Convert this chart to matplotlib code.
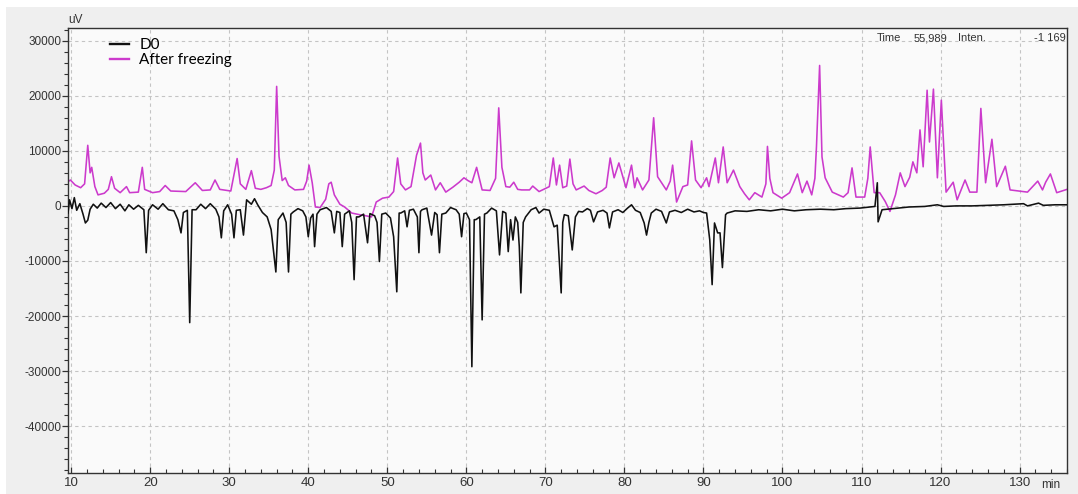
import matplotlib
matplotlib.use('Agg')
import matplotlib.pyplot as plt
from matplotlib.ticker import MultipleLocator, FormatStrFormatter
from matplotlib.patches import Rectangle

# chromatogram traces: (time in min, intensity in uV)
d0_time = [9.6, 9.8, 10.1, 10.4, 10.7, 11.1, 11.5, 11.8, 12.1, 12.4, 12.8, 13.3, 13.8, 14.4, 15.0,
           15.6, 16.2, 16.8, 17.3, 17.9, 18.5, 19.2, 19.5, 19.8, 20.3, 21.0, 21.6, 22.3, 23.0, 23.5,
           23.9, 24.2, 24.7, 25.0, 25.3, 25.8, 26.4, 27.0, 27.6, 28.3, 28.7, 29.0, 29.3, 29.8, 30.3,
           30.6, 30.9, 31.4, 31.8, 32.2, 32.8, 33.2, 33.6, 34.2, 34.8, 35.3, 35.9, 36.2, 36.8, 37.2,
           37.5, 37.8, 38.1, 38.7, 39.3, 39.7, 40.0, 40.3, 40.6, 40.8, 41.1, 41.5, 42.3, 42.9, 43.3,
           43.6, 44.0, 44.3, 44.6, 45.2, 45.5, 45.8, 46.1, 46.4, 47.0, 47.5, 47.8, 48.4, 48.7, 49.0,
           49.3, 49.8, 50.4, 50.8, 51.2, 51.5, 51.7, 52.2, 52.5, 52.8, 53.3, 53.8, 54.0, 54.2, 54.4,
           55.0, 55.6, 56.0, 56.3, 56.6, 56.9, 57.4, 58.0, 58.7, 59.1, 59.4, 59.7, 60.0, 60.4, 60.7,
           61.0, 61.2, 61.7, 62.0, 62.3, 62.6, 63.2, 63.8, 64.2, 64.6, 65.0, 65.3, 65.6, 65.9, 66.2,
           66.5, 66.7, 66.9, 67.2, 67.5, 68.2, 68.8, 69.2, 69.8, 70.5, 71.1, 71.5, 72.0, 72.2, 72.4,
           72.9, 73.4, 73.8, 74.2, 74.7, 75.3, 75.7, 76.1, 76.6, 77.3, 77.8, 78.1, 78.5, 79.2, 79.8,
           80.4, 80.9, 81.4, 82.0, 82.5, 82.8, 83.1, 83.4, 84.0, 84.7, 85.3, 85.7, 86.4, 87.2, 88.0,
           88.8, 89.5, 90.0, 90.4, 90.8, 91.1, 91.4, 91.8, 92.1, 92.4, 92.8, 93.0, 94.0, 95.5, 97.0,
           98.5, 100.0, 101.5, 103.0, 104.8, 106.5, 108.0, 109.8, 111.7, 112.0, 112.05, 112.1, 112.6, 114.0, 116.0,
           118.0, 119.6, 120.4, 122.0, 124.0, 126.0, 128.0, 130.5, 131.0, 132.4, 133.0, 134.5, 136.0]
d0_value = [-1300, 1100, -500, 1500, -800, 400, -1500, -3100, -2600, -600, 300, -400, 500, -300, 600,
            -500, 300, -900, 200, -600, 100, -700, -8500, -800, 200, -600, 400, -700, -900, -2500,
            -4900, -1200, -800, -21200, -700, -700, 300, -500, 400, -600, -2000, -5800, -900, 200, -1500,
            -5800, -800, -700, -5300, 1100, 300, 1300, 200, -1200, -2000, -4300, -12000, -2500, -1300, -3000,
            -12000, -1500, -1100, -500, -900, -2000, -5600, -2200, -1500, -7400, -1500, -700, -300, -1000, -4900,
            -1000, -1200, -7400, -1500, -900, -3000, -13400, -2000, -2000, -1500, -6700, -1400, -1800, -3000, -10100,
            -1500, -1300, -2200, -5600, -15600, -1300, -1300, -900, -3800, -800, -600, -2000, -8500, -1000, -700,
            -400, -5300, -1200, -1600, -8500, -1500, -1300, -300, -700, -1500, -5600, -1400, -1300, -2500, -29200,
            -2500, -2500, -2000, -20700, -1500, -1300, -400, -900, -8900, -1000, -1300, -8300, -2500, -6200, -2000,
            -3000, -7400, -15800, -3000, -2000, -700, -300, -1300, -600, -800, -3800, -3500, -15800, -3000, -1600,
            -1800, -8000, -2000, -1000, -1100, -500, -800, -2900, -1100, -800, -1300, -4000, -1100, -700, -1200,
            -400, 200, -800, -1200, -3100, -5300, -3000, -1300, -600, -1000, -3100, -1100, -800, -1200, -600,
            -1100, -900, -1200, -1300, -6200, -14300, -3100, -4900, -4900, -11200, -1600, -1300, -900, -1000, -700,
            -900, -600, -900, -700, -600, -700, -500, -400, -100, 4200, 1000, -2900, -700, -500, -200,
            -100, 200, -100, 0, 0, 100, 200, 400, 0, 500, 100, 200, 200]

frozen_time = [9.6, 9.9, 10.5, 11.2, 11.7, 12.1, 12.4, 12.6, 13.0, 13.4, 14.2, 14.7, 15.1, 15.5, 16.2,
               17.0, 17.4, 18.5, 19.0, 19.3, 20.3, 21.2, 21.9, 22.6, 24.5, 25.7, 26.6, 27.6, 28.2, 28.8,
               30.2, 31.0, 31.4, 32.1, 32.8, 33.3, 34.0, 34.7, 35.3, 35.7, 36.0, 36.3, 36.7, 37.1, 37.5,
               38.3, 39.4, 39.8, 40.1, 40.5, 40.9, 41.5, 42.2, 42.6, 42.9, 43.3, 44.0, 44.6, 45.5, 46.5,
               47.3, 48.0, 48.3, 48.6, 49.4, 50.2, 50.8, 51.3, 51.7, 52.3, 53.0, 53.7, 54.2, 54.5, 54.8,
               55.5, 56.1, 56.7, 57.4, 58.3, 59.1, 59.7, 60.2, 60.7, 61.3, 62.0, 63.0, 63.7, 64.1, 64.5,
               65.0, 65.5, 66.0, 66.5, 67.0, 68.0, 68.4, 69.2, 70.5, 71.0, 71.4, 71.8, 72.2, 72.7, 73.1,
               73.5, 73.9, 74.9, 75.5, 76.4, 77.2, 77.7, 78.2, 78.7, 79.3, 80.2, 80.9, 81.3, 81.6, 82.3,
               83.1, 83.7, 84.2, 85.3, 85.8, 86.1, 86.6, 87.4, 88.0, 88.5, 89.0, 89.7, 90.4, 90.7, 91.5,
               91.9, 92.5, 93.0, 93.8, 94.6, 95.2, 95.8, 96.5, 97.4, 97.9, 98.1, 98.4, 98.8, 99.9, 100.9,
               101.9, 102.5, 103.1, 103.7, 104.1, 104.3, 104.7, 105.0, 105.4, 106.3, 107.7, 108.3, 108.8, 109.3, 110.4,
               110.8, 111.1, 111.6, 112.3, 113.0, 113.6, 114.3, 114.9, 115.5, 116.1, 116.5, 117.0, 117.4, 117.8, 118.3,
               118.6, 119.1, 119.6, 120.1, 120.7, 121.6, 122.1, 123.1, 123.7, 124.6, 125.1, 125.7, 126.5, 127.1, 128.2,
               128.8, 131.0, 132.3, 132.9, 133.3, 133.9, 134.7, 136.0]
frozen_value = [4400, 4700, 3800, 3300, 4000, 11000, 6000, 7000, 3500, 2000, 2300, 3000, 5300, 3200, 2400,
                3500, 2400, 2500, 7000, 3000, 2400, 2600, 3700, 2700, 2600, 4200, 2800, 2900, 4700, 3000,
                2700, 8600, 4000, 3000, 6400, 3200, 3000, 3300, 3700, 6500, 21700, 9000, 4600, 5100, 3700,
                2900, 3000, 4500, 7400, 4200, -200, -300, 1200, 4000, 4300, 2000, 300, -200, -1300, -1600,
                -1800, -2000, -700, 700, 1400, 1600, 2600, 8700, 4000, 2900, 3500, 9200, 11400, 6000, 4700,
                5600, 2900, 4200, 2500, 3400, 4300, 5100, 4600, 4200, 7000, 2900, 2800, 5000, 17800, 7000,
                3500, 3400, 4300, 3000, 2900, 2900, 3600, 2600, 3500, 8700, 3800, 7400, 3300, 3600, 8500,
                4000, 2900, 3600, 2800, 2200, 2800, 3400, 8700, 5100, 7800, 3300, 7400, 3300, 5100, 2900,
                4700, 16000, 5300, 2900, 4500, 7400, 700, 3500, 3800, 11800, 4700, 3300, 5100, 3500, 8700,
                4200, 10700, 4200, 6500, 3500, 2200, 1100, 2400, 1600, 4000, 10800, 5000, 2400, 1400, 2400,
                5800, 2400, 4500, 2000, 5000, 10700, 25500, 8900, 5100, 2500, 1600, 2400, 6900, 1600, 1600,
                5000, 10700, 2400, 2400, 800, -1000, 2000, 6000, 3500, 5200, 8000, 6000, 13800, 7100, 21000,
                11600, 21200, 5100, 19200, 2500, 4300, 1100, 4700, 2500, 2500, 17700, 4200, 12100, 3500, 7200,
                2900, 2500, 4500, 2900, 4300, 5800, 2400, 3000]

series_labels = ['D0', 'After freezing']
x_ticks = list(range(10, 140, 10))
y_ticks = list(range(-40000, 40000, 10000))
info_text = ['Time', '55,989', 'Inten.', '-1 169']

plt.rcParams['axes.unicode_minus'] = False
tick_font = ['Liberation Sans Narrow', 'Liberation Sans', 'DejaVu Sans']

W, H = 1078, 494
fig = plt.figure(figsize=(W / 100, H / 100), dpi=100, facecolor='white')
# grey panel behind the plot, as in the instrument software export
fig.patches.append(Rectangle((6 / W, 0), 1 - 6 / W, 1 - 7 / H, transform=fig.transFigure,
                             facecolor='#efefef', edgecolor='none', zorder=-10))

ax = fig.add_axes([68 / W, 1 - 473 / H, (1067 - 68) / W, (473 - 28) / H])
ax.set_facecolor('#fafafa')

ax.plot(d0_time, d0_value, color='#111111', lw=1.15, label=series_labels[0], zorder=3)
ax.plot(frozen_time, frozen_value, color='#cc3acc', lw=1.15, label=series_labels[1], zorder=2)

ax.set_xlim(9.6, 136.0)
ax.set_ylim(-48500, 32300)
ax.set_xticks(x_ticks)
ax.set_yticks(y_ticks)
ax.xaxis.set_minor_locator(MultipleLocator(2))
ax.yaxis.set_minor_locator(MultipleLocator(2000))
ax.yaxis.set_major_formatter(FormatStrFormatter('%d'))

ax.grid(True, which='major', color='#c4c4c4', lw=0.8, linestyle=(0, (3, 3)))
ax.set_axisbelow(True)

for s in ax.spines.values():
    s.set_color('#333333')
    s.set_linewidth(1.0)

ax.tick_params(axis='x', which='both', direction='in', colors='#333333', labelcolor='#333333',
               labelsize=9.5, pad=3)
ax.tick_params(axis='x', which='major', length=4, width=0.9)
ax.tick_params(axis='x', which='minor', length=3, width=0.8)
ax.tick_params(axis='y', which='both', direction='out', colors='#333333', labelcolor='#333333',
               labelsize=8.5, pad=1)
ax.tick_params(axis='y', which='major', length=4, width=0.9)
ax.tick_params(axis='y', which='minor', length=3, width=0.8)
for lbl in ax.get_xticklabels() + ax.get_yticklabels():
    lbl.set_family(tick_font)

ax.text(0.0, 1.005, 'uV', transform=ax.transAxes, ha='left', va='bottom',
        fontsize=8.5, color='#333333', family=tick_font)
ax.text(0.993, -0.014, 'min', transform=ax.transAxes, ha='right', va='top',
        fontsize=8.5, color='#333333', family=tick_font)

# cursor readout in the top-right corner
info_x = [0.81, 0.846, 0.891, 0.999]
for txt, xp in zip(info_text, info_x):
    ax.text(xp, 0.988, txt, transform=ax.transAxes, ha='right' if txt == info_text[-1] else 'left',
            va='top', fontsize=8, color='#333333', family=tick_font)

leg = ax.legend(loc='upper left', bbox_to_anchor=(0.034, 0.995), frameon=False,
                handlelength=1.3, handletextpad=0.65, labelspacing=0.1, borderpad=0,
                prop={'family': ['Lato', 'DejaVu Sans'], 'size': 11})
for h in leg.get_lines():
    h.set_linewidth(1.7)

fig.savefig('out.png', dpi=100, facecolor=fig.get_facecolor())
